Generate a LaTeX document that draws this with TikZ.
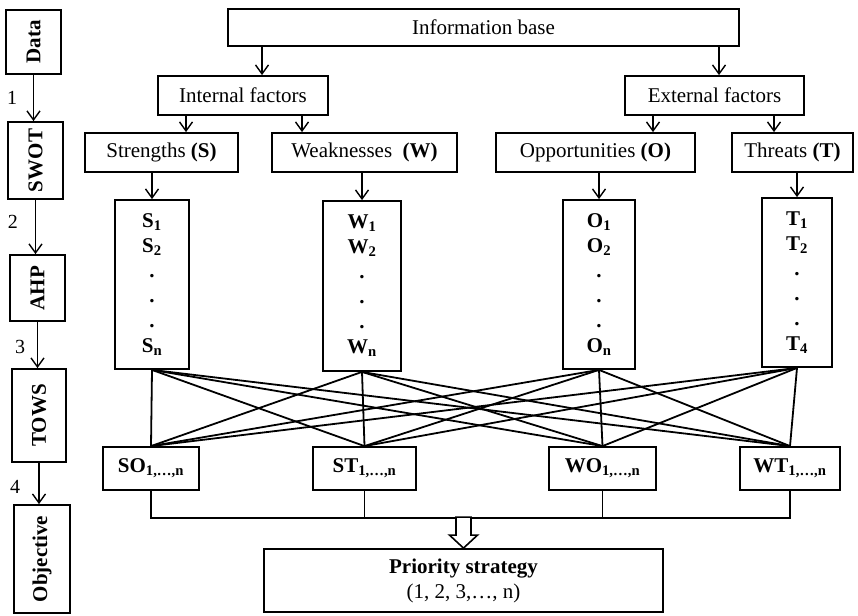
\documentclass[tikz,border=0pt]{standalone}
\usepackage{fontspec}
\setmainfont{Liberation Serif}
\usepackage{graphicx}
\usetikzlibrary{arrows.meta,calc}
\begin{document}
\begin{tikzpicture}[x=1pt,y=-1pt,
  every node/.style={font=\fontsize{21}{25}\selectfont},
  box/.style={draw, line width=1.8pt, inner sep=0pt, align=center},
  arr/.style={line width=1.4pt, -{Straight Barb[length=9pt,width=13pt,line width=1.4pt]}},
  link/.style={line width=1.8pt},
  num/.style={font=\fontsize{20}{24}\selectfont, inner sep=0pt}
]
\useasboundingbox (0,0) rectangle (858,615);

% left process column
\node[box, minimum width=55pt, minimum height=64pt]  (Data) at (33.5,42)   {\rotatebox{90}{\textbf{Data}}};
\node[box, minimum width=55pt, minimum height=77pt]  (SWOT) at (35.5,160.5) {\rotatebox{90}{\textbf{SWOT}}};
\node[box, minimum width=55pt, minimum height=66pt]  (AHP)  at (37.5,288)  {\rotatebox{90}{\textbf{AHP}}};
\node[box, minimum width=54pt, minimum height=93pt]  (TOWS) at (39,415.5)  {\rotatebox{90}{\textbf{TOWS}}};
\node[box, minimum width=56pt, minimum height=108pt] (Obj)  at (42,559)    {\rotatebox{90}{\textbf{Objective}}};
\draw[arr] (Data.south) -- (Data.south |- SWOT.north);
\draw[arr] (SWOT.south) -- (SWOT.south |- AHP.north);
\draw[arr] (AHP.south) -- (AHP.south |- TOWS.north);
\draw[arr] (TOWS.south) -- (TOWS.south |- Obj.north);
\node[num] (n1) at (12,98) {1};
\node[num] (n2) at (13,222) {2};
\node[num] (n3) at (20,347) {3};
\node[num] (n4) at (15,487) {4};

% hierarchy
\node[box, minimum width=511pt, minimum height=37pt] (Info) at (483.5,27.5) {Information base};
\node[box, minimum width=170pt, minimum height=39pt] (Int) at (243,95.5) {Internal factors};
\node[box, minimum width=179pt, minimum height=39pt] (Ext) at (714.5,95.5) {External factors};
\node[box, minimum width=153pt, minimum height=39pt] (Str) at (161.5,152.5) {Strengths \textbf{(S)}};
\node[box, minimum width=185pt, minimum height=39pt] (Weak) at (364.5,152.5) {Weaknesses\ \ \textbf{(W)}};
\node[box, minimum width=199pt, minimum height=39pt] (Opp) at (595.5,152.5) {Opportunities \textbf{(O)}};
\node[box, minimum width=121pt, minimum height=39pt] (Thr) at (792.5,152.5) {Threats \textbf{(T)}};

\coordinate (aInt) at ([xshift=19pt]Int.north);
\coordinate (aExt) at ([xshift=4.5pt]Ext.north);
\draw[arr] (aInt |- Info.south) -- (aInt);
\draw[arr] (aExt |- Info.south) -- (aExt);
\coordinate (aS) at ([xshift=-57pt]Int.south);
\coordinate (aW) at ([xshift=59pt]Int.south);
\coordinate (aO) at ([xshift=-61.5pt]Ext.south);
\coordinate (aT) at ([xshift=59.5pt]Ext.south);
\draw[arr] (aS) -- (aS |- Str.north);
\draw[arr] (aW) -- (aW |- Weak.north);
\draw[arr] (aO) -- (aO |- Opp.north);
\draw[arr] (aT) -- (aT |- Thr.north);

% factor lists
\node[box, minimum width=74pt, minimum height=169pt] (S) at (152,284.5)
  {\textbf{S\textsubscript{1}}\\\textbf{S\textsubscript{2}}\\\textbf{.}\\\textbf{.}\\\textbf{.}\\\textbf{S\textsubscript{n}}};
\node[box, minimum width=78pt, minimum height=170pt] (W) at (362,286)
  {\textbf{W\textsubscript{1}}\\\textbf{W\textsubscript{2}}\\\textbf{.}\\\textbf{.}\\\textbf{.}\\\textbf{W\textsubscript{n}}};
\node[box, minimum width=72pt, minimum height=169pt] (O) at (599,284.5)
  {\textbf{O\textsubscript{1}}\\\textbf{O\textsubscript{2}}\\\textbf{.}\\\textbf{.}\\\textbf{.}\\\textbf{O\textsubscript{n}}};
\node[box, minimum width=70pt, minimum height=169pt] (T) at (797,282.5)
  {\textbf{T\textsubscript{1}}\\\textbf{T\textsubscript{2}}\\\textbf{.}\\\textbf{.}\\\textbf{.}\\\textbf{T\textsubscript{4}}};
\draw[arr] (S.north |- Str.south) -- (S.north);
\draw[arr] (W.north |- Weak.south) -- (W.north);
\draw[arr] (O.north |- Opp.south) -- (O.north);
\draw[arr] (T.north |- Thr.south) -- (T.north);

% strategies
\node[box, minimum width=96pt,  minimum height=43pt] (SO) at (151,468.5)   {\textbf{SO\textsubscript{1,…,n}}};
\node[box, minimum width=103pt, minimum height=43pt] (ST) at (364.5,468.5) {\textbf{ST\textsubscript{1,…,n}}};
\node[box, minimum width=107pt, minimum height=43pt] (WO) at (602.5,468.5) {\textbf{WO\textsubscript{1,…,n}}};
\node[box, minimum width=100pt, minimum height=43pt] (WT) at (790,468.5)   {\textbf{WT\textsubscript{1,…,n}}};

\foreach \a in {S,W,O,T}
  \foreach \b in {SO,ST,WO,WT}
    \draw[link] (\a.south) -- (\b.north);

% bus and priority
\node[box, minimum width=399pt, minimum height=63pt] (Prio) at (463.5,580.5)
  {\textbf{Priority strategy}\\(1, 2, 3,…, n)};
\coordinate (bus) at (0,518);
\draw[link] (SO.south) -- (SO.south |- bus) -- (WT.south |- bus) -- (WT.south);
\draw[link] (ST.south) -- (ST.south |- bus);
\draw[link] (WO.south) -- (WO.south |- bus);
\draw[line width=1.6pt, fill=white] ($(Prio.north)+(-7.5,-31)$) -- ++(15,0) -- ++(0,18) -- ++(6.5,0)
  -- (Prio.north) -- ++(-14,-13) -- ++(6.5,0) -- cycle;
\end{tikzpicture}
\end{document}
